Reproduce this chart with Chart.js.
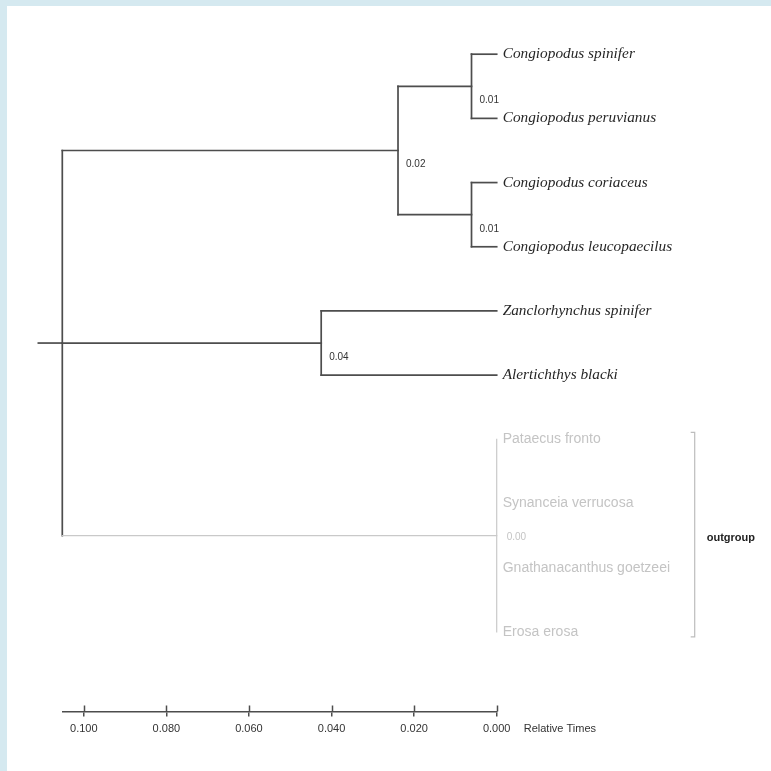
<!DOCTYPE html>
<html>
<head>
<meta charset="utf-8">
<script src="https://cdn.jsdelivr.net/npm/chart.js@4/dist/chart.umd.min.js"></script>
<style>
  html, body { margin: 0; padding: 0; background: #d5e9f0; width: 771px; height: 771px; overflow: hidden; }
  #wrap { position: absolute; left: 7px; top: 6px; width: 764px; height: 765px; background: #ffffff; }
  canvas { display: block; }
</style>
</head>
<body>
<div id="wrap"><canvas id="c" width="764" height="765"></canvas></div>
<script>
// ---- Data ----
const leafNames = ['Congiopodus spinifer', 'Congiopodus peruvianus', 'Congiopodus coriaceus',
                   'Congiopodus leucopaecilus', 'Zanclorhynchus spinifer', 'Alertichthys blacki'];
const outgroupNames = ['Pataecus fronto', 'Synanceia verrucosa', 'Gnathanacanthus goetzeei', 'Erosa erosa'];
const nodeNames = ['Root', 'Congiopodus', 'spinifer+peruvianus', 'coriaceus+leucopaecilus',
                   'Zanclorhynchus+Alertichthys', 'Outgroup'];
const nodeAges = [0.1052, 0.0239, 0.0061, 0.0061, 0.0425, 0.000];
const nodeChildren = [['n1', 'n4', 'n5'], ['n2', 'n3'], ['t0', 't1'], ['t2', 't3'], ['t4', 't5'], ['t6', 't7', 't8', 't9']];
const nodeSupport = ['', '0.02', '0.01', '0.01', '0.04', '0.00'];
const rootStubAge = 0.111;
const xTicks = [0.100, 0.080, 0.060, 0.040, 0.020, 0.000];
const axisTitle = 'Relative Times';
const groupLabel = 'outgroup';

// ---- Build tree geometry from data ----
const OUT = nodeNames.indexOf('Outgroup');
function ageOf(id) { return id[0] === 't' ? 0 : nodeAges[+id.slice(1)]; }
const rowCache = {};
function rowOf(id) {
  if (rowCache[id] !== undefined) return rowCache[id];
  let r;
  if (id[0] === 't') r = +id.slice(1) + 1;
  else {
    const rows = nodeChildren[+id.slice(1)].map(rowOf);
    r = (Math.min(...rows) + Math.max(...rows)) / 2;
  }
  rowCache[id] = r;
  return r;
}
function inOutgroup(id) {
  if (id === 'n' + OUT) return true;
  if (id[0] === 't') return +id.slice(1) >= leafNames.length;
  return false;
}
const DARK = '#4d4d4d', LIGHT = '#c9c9c9';
const greySegs = [], darkSegs = [];
nodeChildren.forEach((kids, i) => {
  const id = 'n' + i, a = nodeAges[i];
  const rows = kids.map(rowOf);
  const target = inOutgroup(id) ? greySegs : darkSegs;
  target.push([{x: a, y: Math.min(...rows)}, {x: a, y: Math.max(...rows)}]);
  kids.forEach(k => {
    const ca = ageOf(k);
    if (ca !== a) (inOutgroup(k) ? greySegs : darkSegs).push([{x: a, y: rowOf(k)}, {x: ca, y: rowOf(k)}]);
  });
});
darkSegs.push([{x: rootStubAge, y: rowOf('n0')}, {x: nodeAges[0], y: rowOf('n0')}]);

function seg(points, color) {
  return { data: points, showLine: true, borderColor: color, borderWidth: color === DARK ? 1.7 : 1.2,
           pointRadius: 0, pointHoverRadius: 0, clip: false, borderCapStyle: 'square' };
}
const datasets = greySegs.map(p => seg(p, LIGHT)).concat(darkSegs.map(p => seg(p, DARK)));

// ---- Annotation plugin (text drawn from scale positions) ----
const treeText = {
  id: 'treeText',
  afterDraw(chart) {
    const ctx = chart.ctx, xs = chart.scales.x, ys = chart.scales.y;
    const x0 = xs.getPixelForValue(0);
    ctx.save();
    ctx.textBaseline = 'middle';
    ctx.textAlign = 'left';
    // ingroup taxa
    ctx.fillStyle = '#262626';
    ctx.font = 'italic 15.3px "Liberation Serif", "DejaVu Serif", serif';
    leafNames.forEach((n, i) => ctx.fillText(n, x0 + 6, ys.getPixelForValue(rowOf('t' + i))));
    // outgroup taxa
    ctx.fillStyle = '#c4c4c4';
    ctx.font = '14px "Liberation Sans", Arial, sans-serif';
    outgroupNames.forEach((n, i) => ctx.fillText(n, x0 + 6, ys.getPixelForValue(rowOf('t' + (i + leafNames.length)))));
    // node support values
    ctx.font = '10px "Liberation Sans", Arial, sans-serif';
    nodeSupport.forEach((s, i) => {
      if (!s) return;
      const out = i === OUT;
      ctx.fillStyle = out ? '#c4c4c4' : '#333333';
      const px = xs.getPixelForValue(nodeAges[i]) + (out ? 10 : 8);
      const py = ys.getPixelForValue(rowOf('n' + i) + (out ? 0.03 : 0.22));
      ctx.fillText(s, px, py);
    });
    // bracket around outgroup
    const outRows = nodeChildren[OUT].map(rowOf);
    const bx = x0 + 198;
    const bTop = ys.getPixelForValue(Math.min(...outRows)) - 7;
    const bBot = ys.getPixelForValue(Math.max(...outRows)) + 5;
    ctx.strokeStyle = '#bdbdbd';
    ctx.lineWidth = 1.2;
    ctx.beginPath();
    ctx.moveTo(bx - 4, bTop); ctx.lineTo(bx, bTop); ctx.lineTo(bx, bBot); ctx.lineTo(bx - 4, bBot);
    ctx.stroke();
    ctx.fillStyle = '#222';
    ctx.font = 'bold 11px "Liberation Sans", Arial, sans-serif';
    ctx.fillText(groupLabel, bx + 12, ys.getPixelForValue(rowOf('n' + OUT)) + 2);
    // upper half of axis tick marks
    const ay = xs.top;
    ctx.strokeStyle = '#4d4d4d';
    ctx.lineWidth = 1.5;
    xTicks.forEach(v => {
      const px = Math.round(xs.getPixelForValue(v)) + 0.5;
      ctx.beginPath(); ctx.moveTo(px, ay - 6); ctx.lineTo(px, ay); ctx.stroke();
    });
    // axis title
    ctx.fillStyle = '#333';
    ctx.font = '11px "Liberation Sans", Arial, sans-serif';
    ctx.fillText(axisTitle, x0 + 27, ay + 17);
    ctx.restore();
  }
};

new Chart(document.getElementById('c'), {
  type: 'scatter',
  data: { datasets },
  options: {
    responsive: false,
    animation: false,
    devicePixelRatio: 1,
    layout: { padding: { left: 55.3, top: 16.1, right: 274.3, bottom: 31.5 } },
    plugins: { legend: { display: false }, tooltip: { enabled: false } },
    events: [],
    scales: {
      x: {
        type: 'linear', position: 'bottom', reverse: true,
        min: 0, max: nodeAges[0],
        afterBuildTicks: s => { s.ticks = xTicks.map(v => ({ value: v })); },
        afterFit: s => { s.height = 28; },
        grid: { drawOnChartArea: false, tickLength: 5, color: '#4d4d4d', lineWidth: 1.5 },
        border: { color: '#4d4d4d', width: 1.5 },
        ticks: {
          autoSkip: false, maxRotation: 0, padding: 5.5, color: '#333',
          font: { size: 11, family: '"Liberation Sans", Arial, sans-serif' },
          callback: v => Number(v).toFixed(3)
        }
      },
      y: { type: 'linear', reverse: true, min: 0.5, max: 11.24, display: false }
    }
  },
  plugins: [treeText]
});
</script>
</body>
</html>
